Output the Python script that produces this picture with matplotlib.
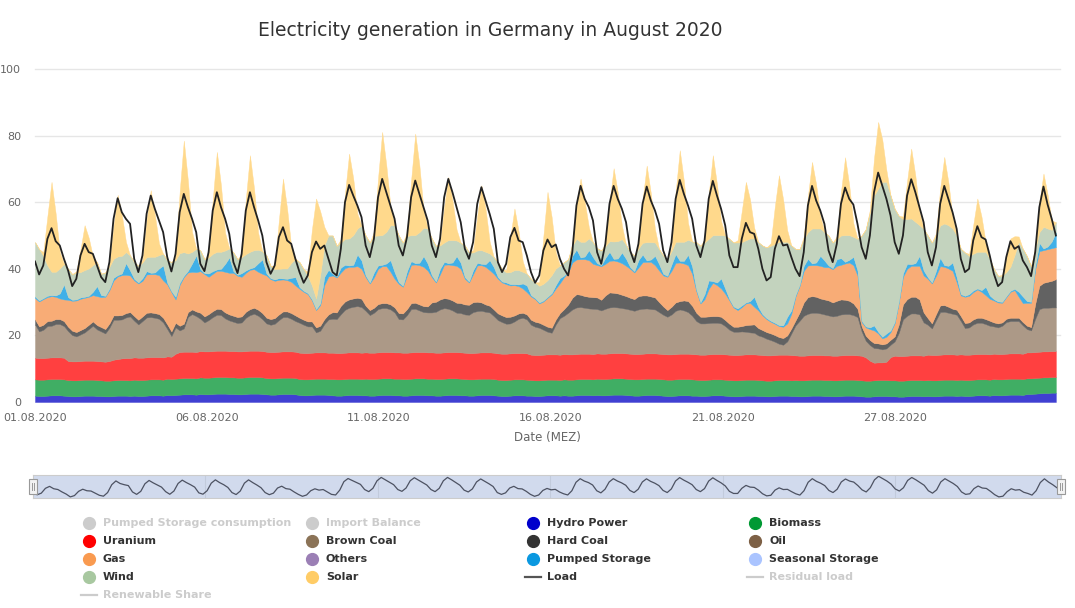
import numpy as np
import matplotlib.pyplot as plt
from matplotlib.lines import Line2D
from matplotlib.patches import Rectangle

# 3-hourly values (00, 03, ... 21 h) from 01.08.2020 to 31.08.2020, GW
hydro = [
    1.9, 1.8, 1.8, 1.9, 2.0, 2.0, 2.0, 1.9, 1.8, 1.7, 1.7, 1.8, 1.9, 1.9, 1.9, 1.8,
    1.8, 1.7, 1.7, 1.8, 1.9, 1.9, 1.9, 1.8, 1.9, 1.8, 1.8, 1.9, 2.0, 2.0, 2.0, 1.9,
    2.1, 2.0, 2.1, 2.2, 2.3, 2.3, 2.3, 2.2, 2.4, 2.3, 2.3, 2.4, 2.5, 2.5, 2.5, 2.4,
    2.4, 2.3, 2.3, 2.4, 2.5, 2.5, 2.5, 2.4, 2.3, 2.2, 2.2, 2.3, 2.4, 2.4, 2.4, 2.3,
    2.1, 2.0, 2.0, 2.1, 2.2, 2.2, 2.2, 2.1, 2.0, 1.9, 1.9, 2.0, 2.1, 2.1, 2.1, 2.0,
    2.0, 1.9, 1.9, 2.0, 2.1, 2.1, 2.1, 2.0, 2.0, 1.9, 1.9, 2.0, 2.1, 2.1, 2.1, 2.0,
    2.0, 1.9, 1.9, 2.0, 2.1, 2.1, 2.1, 2.0, 2.0, 1.9, 1.9, 2.0, 2.1, 2.1, 2.1, 2.0,
    1.9, 1.8, 1.8, 1.9, 2.0, 2.0, 2.0, 1.9, 1.9, 1.8, 1.8, 1.9, 2.0, 2.0, 2.0, 1.9,
    2.0, 1.9, 1.9, 2.0, 2.1, 2.1, 2.1, 2.0, 2.1, 2.0, 2.0, 2.1, 2.2, 2.2, 2.2, 2.1,
    2.0, 1.9, 1.9, 2.0, 2.1, 2.1, 2.1, 2.0, 1.9, 1.8, 1.8, 1.9, 2.0, 2.0, 2.0, 1.9,
    1.9, 1.8, 1.8, 1.9, 2.0, 2.0, 2.0, 1.9, 1.8, 1.7, 1.7, 1.8, 1.9, 1.9, 1.9, 1.8,
    1.8, 1.7, 1.7, 1.8, 1.9, 1.9, 1.9, 1.8, 1.8, 1.7, 1.7, 1.8, 1.9, 1.9, 1.9, 1.8,
    1.8, 1.7, 1.7, 1.8, 1.9, 1.9, 1.9, 1.8, 1.7, 1.6, 1.6, 1.7, 1.8, 1.8, 1.8, 1.7,
    1.7, 1.6, 1.6, 1.7, 1.8, 1.8, 1.8, 1.7, 1.8, 1.7, 1.7, 1.8, 1.9, 1.9, 1.9, 1.8,
    1.9, 1.8, 1.8, 1.9, 2.0, 2.0, 2.0, 1.9, 2.1, 2.0, 2.0, 2.1, 2.2, 2.2, 2.2, 2.1,
    2.4, 2.4, 2.5, 2.6, 2.7, 2.7, 2.8, 2.8,
]
biomass = [
    4.9, 4.9, 4.9, 4.9, 4.9, 4.9, 4.9, 4.9, 4.8, 4.8, 4.8, 4.8, 4.8, 4.8, 4.8, 4.8,
    4.7, 4.7, 4.7, 4.7, 4.7, 4.7, 4.7, 4.7, 4.8, 4.8, 4.8, 4.8, 4.8, 4.8, 4.8, 4.8,
    4.9, 4.9, 4.9, 4.9, 4.9, 4.9, 4.9, 4.9, 5.0, 5.0, 5.0, 5.0, 5.0, 5.0, 5.0, 5.0,
    5.0, 5.0, 5.0, 5.0, 5.0, 5.0, 5.0, 5.0, 4.9, 4.9, 4.9, 4.9, 4.9, 4.9, 4.9, 4.9,
    4.8, 4.8, 4.8, 4.8, 4.8, 4.8, 4.8, 4.8, 4.9, 4.9, 4.9, 4.9, 4.9, 4.9, 4.9, 4.9,
    5.0, 5.0, 5.0, 5.0, 5.0, 5.0, 5.0, 5.0, 5.0, 5.0, 5.0, 5.0, 5.0, 5.0, 5.0, 5.0,
    5.0, 5.0, 5.0, 5.0, 5.0, 5.0, 5.0, 5.0, 4.9, 4.9, 4.9, 4.9, 4.9, 4.9, 4.9, 4.9,
    4.8, 4.8, 4.8, 4.8, 4.8, 4.8, 4.8, 4.8, 4.7, 4.7, 4.7, 4.7, 4.7, 4.7, 4.7, 4.7,
    4.8, 4.8, 4.8, 4.8, 4.8, 4.8, 4.8, 4.8, 4.9, 4.9, 4.9, 4.9, 4.9, 4.9, 4.9, 4.9,
    4.9, 4.9, 4.9, 4.9, 4.9, 4.9, 4.9, 4.9, 4.9, 4.9, 4.9, 4.9, 4.9, 4.9, 4.9, 4.9,
    4.8, 4.8, 4.8, 4.8, 4.8, 4.8, 4.8, 4.8, 4.8, 4.8, 4.8, 4.8, 4.8, 4.8, 4.8, 4.8,
    4.7, 4.7, 4.7, 4.7, 4.7, 4.7, 4.7, 4.7, 4.8, 4.8, 4.8, 4.8, 4.8, 4.8, 4.8, 4.8,
    4.8, 4.8, 4.8, 4.8, 4.8, 4.8, 4.8, 4.8, 4.8, 4.8, 4.8, 4.8, 4.8, 4.8, 4.8, 4.8,
    4.8, 4.8, 4.8, 4.8, 4.8, 4.8, 4.8, 4.8, 4.8, 4.8, 4.8, 4.8, 4.8, 4.8, 4.8, 4.8,
    4.8, 4.8, 4.8, 4.8, 4.8, 4.8, 4.8, 4.8, 4.8, 4.8, 4.8, 4.8, 4.8, 4.8, 4.8, 4.8,
    4.7, 4.7, 4.7, 4.7, 4.7, 4.7, 4.7, 4.7,
]
uranium = [
    6.5, 6.5, 6.5, 6.5, 6.5, 6.5, 6.5, 6.5, 5.7, 5.7, 5.7, 5.7, 5.7, 5.7, 5.7, 5.7,
    5.7, 5.7, 5.9, 6.2, 6.3, 6.5, 6.6, 6.7, 6.7, 6.7, 6.7, 6.7, 6.7, 6.7, 6.7, 6.7,
    6.7, 6.7, 7.5, 7.9, 7.9, 7.9, 7.9, 7.9, 7.9, 7.9, 7.9, 7.9, 7.9, 7.9, 7.9, 7.9,
    7.9, 7.9, 7.9, 7.9, 7.9, 7.9, 7.9, 7.9, 7.9, 7.9, 7.9, 7.9, 7.9, 7.9, 7.9, 7.9,
    7.9, 7.9, 7.9, 7.9, 7.9, 7.9, 7.9, 7.9, 7.9, 7.9, 7.9, 7.9, 7.9, 7.9, 7.9, 7.9,
    7.9, 7.9, 7.9, 7.9, 7.9, 7.9, 7.9, 7.9, 7.9, 7.9, 7.9, 7.9, 7.9, 7.9, 7.9, 7.9,
    7.9, 7.9, 7.9, 7.9, 7.9, 7.9, 7.9, 7.9, 7.9, 7.9, 7.9, 7.9, 7.9, 7.9, 7.9, 7.9,
    7.9, 7.9, 7.9, 7.9, 7.9, 7.9, 7.9, 7.9, 7.6, 7.6, 7.6, 7.6, 7.6, 7.6, 7.6, 7.6,
    7.6, 7.6, 7.6, 7.6, 7.6, 7.6, 7.6, 7.6, 7.6, 7.6, 7.6, 7.6, 7.6, 7.6, 7.6, 7.6,
    7.6, 7.6, 7.6, 7.6, 7.6, 7.6, 7.6, 7.6, 7.6, 7.6, 7.6, 7.6, 7.6, 7.6, 7.6, 7.6,
    7.6, 7.6, 7.6, 7.6, 7.6, 7.6, 7.6, 7.6, 7.6, 7.6, 7.6, 7.6, 7.6, 7.6, 7.6, 7.6,
    7.6, 7.6, 7.6, 7.6, 7.6, 7.6, 7.6, 7.6, 7.4, 7.4, 7.4, 7.4, 7.4, 7.4, 7.4, 7.4,
    7.4, 7.4, 7.4, 7.4, 7.4, 7.4, 7.4, 7.4, 7.4, 7.0, 6.0, 5.3, 5.3, 5.3, 5.5, 7.0,
    7.4, 7.4, 7.4, 7.4, 7.4, 7.4, 7.4, 7.4, 7.6, 7.6, 7.6, 7.6, 7.6, 7.6, 7.6, 7.6,
    7.6, 7.6, 7.6, 7.6, 7.6, 7.6, 7.6, 7.6, 7.6, 7.6, 7.6, 7.6, 7.6, 7.6, 7.6, 7.6,
    7.8, 7.8, 7.8, 7.8, 7.8, 7.8, 7.8, 7.8,
]
brown_coal = [
    10.0, 8.0, 8.5, 9.5, 9.5, 10.0, 10.0, 9.5, 9.0, 7.9, 7.5, 8.0, 8.5, 9.5, 10.5, 9.5,
    9.0, 8.5, 10.0, 12.0, 11.8, 11.7, 12.2, 12.5, 11.0, 10.0, 11.0, 12.0, 12.0, 11.8, 11.5, 10.5,
    8.2, 6.2, 7.9, 6.5, 7.0, 10.5, 11.3, 10.8, 9.7, 8.7, 9.4, 10.2, 10.8, 10.7, 9.7, 9.2,
    8.8, 8.5, 8.7, 10.0, 10.7, 11.1, 10.5, 9.6, 8.5, 8.2, 8.5, 9.5, 10.3, 10.3, 9.8, 9.2,
    9.0, 8.5, 8.0, 7.9, 6.0, 6.5, 8.5, 10.0, 10.2, 10.2, 11.7, 12.9, 13.4, 13.7, 13.9, 13.7,
    12.5, 11.3, 12.0, 13.0, 13.2, 13.2, 12.8, 12.0, 10.0, 10.0, 11.3, 13.0, 13.0, 12.5, 12.0, 12.0,
    12.0, 12.3, 13.0, 13.3, 13.0, 12.5, 11.8, 11.8, 11.5, 11.5, 12.3, 12.5, 12.5, 12.2, 12.0, 11.0,
    10.0, 9.5, 9.0, 9.0, 9.5, 10.3, 10.6, 10.2, 9.0, 8.5, 8.2, 7.5, 6.8, 6.5, 9.0, 11.0,
    11.5, 12.5, 13.5, 14.0, 14.0, 13.8, 13.6, 13.6, 13.3, 13.0, 13.5, 13.8, 13.8, 13.7, 13.5, 13.4,
    13.2, 13.0, 13.4, 13.5, 13.5, 13.3, 13.2, 12.5, 11.8, 11.3, 12.0, 13.0, 13.3, 13.0, 12.5, 11.5,
    10.0, 9.4, 9.4, 9.4, 9.4, 9.4, 9.2, 8.5, 7.5, 7.0, 7.0, 7.0, 6.8, 6.6, 6.5, 5.8,
    5.5, 5.0, 4.6, 4.0, 3.3, 3.0, 4.0, 6.5, 9.0, 10.5, 12.0, 12.5, 12.7, 12.7, 12.5, 12.3,
    12.0, 11.8, 12.0, 12.3, 12.3, 12.3, 12.0, 11.5, 7.3, 5.0, 4.7, 4.4, 4.2, 3.9, 4.0, 3.7,
    4.3, 7.0, 11.0, 12.0, 12.6, 12.6, 12.3, 10.0, 9.0, 8.0, 10.5, 12.8, 12.8, 12.5, 12.2, 12.0,
    10.0, 8.0, 8.2, 9.0, 9.4, 9.4, 9.0, 8.6, 8.2, 8.0, 8.5, 9.5, 9.7, 9.7, 9.7, 8.5,
    7.0, 6.6, 10.0, 12.8, 13.1, 13.1, 13.1, 13.1,
]
hard_coal = [
    1.5, 1.5, 1.5, 1.5, 1.5, 1.5, 1.5, 1.5, 1.3, 1.3, 1.3, 1.3, 1.3, 1.3, 1.3, 1.3,
    1.3, 1.3, 1.3, 1.3, 1.3, 1.3, 1.3, 1.3, 1.4, 1.4, 1.4, 1.4, 1.4, 1.4, 1.4, 1.4,
    1.4, 1.4, 1.4, 1.4, 1.4, 1.4, 1.4, 1.4, 1.8, 1.8, 1.8, 1.8, 1.8, 1.8, 1.8, 1.8,
    1.8, 1.8, 1.8, 1.8, 1.8, 1.8, 1.8, 1.8, 1.7, 1.7, 1.7, 1.7, 1.7, 1.7, 1.7, 1.7,
    1.5, 1.5, 1.5, 1.5, 1.5, 1.5, 1.5, 1.5, 2.0, 2.0, 2.5, 2.5, 2.5, 2.5, 2.5, 2.5,
    1.5, 1.5, 1.5, 1.5, 1.5, 1.5, 1.5, 1.5, 1.8, 1.8, 1.8, 1.8, 1.8, 1.8, 1.8, 1.8,
    3.0, 3.0, 3.0, 3.0, 3.0, 3.0, 3.0, 3.0, 3.0, 3.0, 3.0, 2.8, 2.5, 2.2, 2.0, 2.0,
    2.0, 2.0, 2.0, 2.0, 1.8, 1.6, 1.5, 1.5, 1.5, 1.5, 1.5, 1.5, 1.5, 1.5, 1.5, 1.5,
    2.0, 2.5, 3.5, 4.0, 3.7, 3.5, 3.5, 3.5, 3.5, 3.2, 4.0, 4.5, 4.3, 4.2, 4.0, 3.8,
    3.6, 3.5, 4.0, 4.0, 3.9, 3.8, 3.6, 3.0, 2.5, 2.0, 2.3, 2.5, 2.5, 3.0, 3.3, 3.0,
    2.5, 2.0, 2.0, 2.0, 2.0, 2.0, 2.0, 1.8, 1.8, 1.5, 1.5, 1.6, 2.0, 2.3, 2.5, 2.2,
    2.0, 2.0, 2.0, 2.0, 2.0, 2.0, 1.8, 1.5, 1.5, 2.5, 4.0, 5.0, 5.0, 4.8, 4.5, 4.5,
    4.5, 4.2, 4.5, 4.5, 4.3, 4.0, 3.5, 2.5, 1.5, 1.5, 1.5, 1.5, 1.5, 1.5, 1.5, 1.5,
    1.5, 2.5, 4.5, 5.0, 5.0, 5.0, 4.5, 3.0, 2.0, 1.5, 1.8, 2.0, 2.0, 1.8, 1.5, 1.5,
    1.5, 1.5, 1.5, 1.5, 1.5, 1.5, 1.5, 1.5, 1.2, 1.2, 1.0, 1.0, 1.0, 1.0, 1.0, 1.0,
    1.0, 1.0, 4.5, 7.0, 7.5, 7.8, 8.0, 8.5,
]
gas = [
    6.4, 7.5, 7.7, 7.2, 7.4, 6.7, 6.2, 6.5, 8.1, 9.0, 9.5, 9.4, 9.1, 8.4, 7.9, 8.7,
    9.0, 9.7, 10.0, 10.5, 11.7, 12.0, 11.5, 11.0, 10.7, 10.9, 10.7, 11.5, 11.5, 11.7, 11.7, 11.2,
    12.0, 11.8, 7.0, 12.3, 14.0, 11.9, 11.3, 11.8, 12.5, 12.7, 11.2, 11.2, 11.4, 11.5, 12.2, 12.5,
    12.9, 12.4, 11.9, 11.7, 11.8, 11.6, 11.4, 11.8, 12.7, 12.0, 11.2, 10.4, 9.6, 9.4, 9.4, 9.0,
    8.7, 8.4, 8.2, 6.3, 5.2, 6.2, 10.2, 11.4, 11.0, 10.5, 10.0, 10.0, 9.8, 9.5, 9.5, 9.0,
    8.6, 8.0, 9.1, 10.6, 11.1, 11.1, 9.8, 8.6, 8.8, 8.0, 10.0, 11.5, 11.5, 11.8, 11.8, 10.8,
    7.6, 5.8, 7.6, 10.0, 10.3, 10.6, 11.1, 10.3, 7.7, 6.7, 8.4, 10.9, 11.2, 11.3, 10.7, 10.7,
    10.4, 9.9, 9.9, 9.4, 9.1, 8.2, 7.3, 6.7, 7.0, 6.8, 5.8, 7.0, 8.7, 10.0, 9.3, 9.0,
    9.6, 9.6, 10.6, 10.4, 10.7, 11.1, 11.0, 10.0, 9.7, 10.1, 9.5, 9.5, 9.7, 9.6, 9.5, 9.1,
    8.7, 8.0, 8.6, 10.0, 10.1, 10.4, 9.7, 9.5, 9.3, 10.0, 10.8, 11.9, 11.6, 11.1, 10.8, 9.6,
    6.5, 4.0, 5.3, 8.3, 10.0, 9.3, 8.5, 7.9, 7.0, 5.8, 5.0, 5.7, 6.5, 6.6, 5.3, 5.3,
    4.4, 3.9, 3.5, 3.4, 3.3, 3.4, 3.6, 4.4, 7.2, 8.0, 9.5, 9.5, 9.3, 9.5, 9.8, 9.7,
    10.0, 10.0, 10.5, 10.4, 10.9, 11.5, 11.5, 10.0, 1.3, 2.5, 3.3, 3.8, 3.0, 1.8, 2.0, 2.3,
    4.0, 6.6, 8.3, 9.1, 9.3, 9.3, 10.1, 11.1, 11.8, 12.0, 11.5, 11.8, 11.5, 11.5, 11.4, 8.3,
    6.2, 7.9, 8.0, 8.2, 8.5, 7.8, 7.2, 6.6, 6.6, 6.3, 5.9, 6.5, 7.8, 8.3, 6.3, 5.7,
    6.9, 7.3, 10.4, 10.4, 9.8, 9.8, 9.8, 9.6,
]
pumped_storage = [
    0.5, 0.3, 0.3, 0.4, 0.3, 0.4, 1.5, 4.5, 0.8, 0.3, 0.3, 0.4, 0.3, 0.3, 1.0, 3.0,
    0.6, 0.3, 0.5, 0.8, 0.4, 0.5, 3.5, 1.5, 0.5, 0.3, 0.8, 1.0, 0.4, 0.5, 2.0, 4.5,
    0.5, 0.3, 0.8, 0.6, 0.4, 0.5, 2.5, 5.0, 0.6, 0.3, 1.0, 0.8, 0.4, 0.6, 2.4, 4.6,
    0.5, 0.3, 1.1, 0.7, 0.4, 0.6, 2.6, 4.3, 0.6, 0.3, 0.4, 0.5, 0.3, 0.4, 1.2, 2.5,
    0.5, 0.3, 0.3, 0.3, 0.3, 0.5, 2.5, 2.0, 0.5, 0.3, 1.5, 1.0, 0.4, 0.6, 3.5, 2.5,
    0.5, 0.3, 1.5, 1.0, 0.4, 0.8, 3.5, 2.0, 0.5, 0.3, 1.4, 1.1, 0.4, 0.7, 3.2, 2.1,
    0.6, 0.3, 1.6, 0.9, 0.4, 0.8, 2.9, 1.8, 0.5, 0.3, 1.2, 0.8, 0.4, 0.8, 3.0, 2.0,
    0.5, 0.3, 0.5, 0.4, 0.3, 0.5, 1.5, 2.0, 0.4, 0.3, 0.3, 0.3, 0.3, 0.4, 1.0, 1.5,
    0.5, 0.3, 2.0, 3.0, 0.5, 0.8, 3.0, 2.0, 0.6, 0.3, 1.8, 2.7, 0.5, 0.9, 3.2, 2.1,
    0.5, 0.4, 2.2, 2.3, 0.4, 0.7, 2.8, 1.9, 0.5, 0.3, 1.9, 2.6, 0.5, 0.8, 3.1, 2.2,
    0.5, 0.3, 1.5, 2.5, 0.5, 0.8, 3.0, 1.5, 0.4, 0.3, 0.5, 0.5, 0.3, 0.5, 3.0, 1.0,
    0.4, 0.3, 0.3, 0.3, 0.3, 0.4, 2.0, 1.0, 0.4, 0.3, 1.5, 2.0, 0.5, 0.8, 3.0, 2.0,
    0.5, 0.3, 2.0, 2.0, 0.5, 0.8, 2.5, 1.5, 0.4, 0.3, 0.5, 1.5, 0.5, 0.5, 1.0, 0.5,
    0.4, 0.3, 1.0, 1.5, 0.5, 0.8, 3.0, 1.5, 0.5, 0.3, 1.5, 2.5, 0.5, 0.8, 2.5, 1.5,
    0.4, 0.3, 0.5, 0.5, 0.3, 0.5, 2.5, 1.0, 0.4, 0.3, 0.3, 0.3, 0.3, 0.4, 1.5, 2.0,
    0.5, 0.3, 1.0, 2.5, 0.5, 0.8, 2.0, 4.5,
]
wind = [
    16.3, 15.4, 12.7, 9.1, 7.0, 7.1, 7.5, 6.2, 8.5, 7.7, 8.1, 7.6, 8.0, 8.2, 8.0, 7.2,
    6.4, 7.0, 6.5, 5.7, 5.6, 5.3, 3.3, 4.5, 5.0, 5.0, 4.7, 4.2, 4.8, 4.7, 4.0, 3.5,
    6.8, 8.7, 11.0, 8.9, 7.1, 5.2, 3.5, 2.0, 5.6, 4.2, 4.8, 5.2, 5.3, 5.1, 4.0, 2.7,
    5.6, 4.7, 4.8, 4.9, 5.0, 5.1, 4.0, 2.5, 5.4, 3.7, 3.1, 2.8, 3.0, 3.1, 4.5, 5.5,
    7.5, 6.5, 5.2, 4.2, 3.2, 8.5, 9.5, 10.3, 11.5, 9.2, 7.5, 7.8, 8.1, 8.9, 7.8, 10.5,
    12.0, 12.0, 11.0, 9.0, 8.9, 9.5, 10.5, 14.0, 14.0, 13.0, 10.5, 7.8, 8.4, 9.2, 8.5, 10.5,
    11.0, 10.7, 7.0, 5.8, 6.9, 6.7, 4.7, 6.0, 9.5, 8.7, 5.3, 3.7, 4.1, 3.7, 2.0, 3.0,
    4.5, 3.7, 3.0, 3.6, 4.2, 4.3, 3.5, 3.5, 4.9, 4.7, 5.0, 5.0, 5.0, 5.4, 5.0, 3.8,
    4.0, 3.7, 3.0, 3.2, 4.7, 4.4, 3.5, 4.5, 4.5, 4.4, 3.5, 3.2, 5.2, 5.2, 4.0, 4.2,
    4.5, 4.7, 3.5, 3.5, 5.5, 5.2, 4.0, 4.5, 5.5, 5.0, 4.0, 3.7, 5.7, 5.7, 4.5, 7.5,
    14.2, 17.0, 15.5, 12.5, 13.8, 14.2, 13.0, 16.0, 18.1, 19.2, 19.8, 19.0, 18.7, 18.8, 17.5, 19.5,
    20.6, 21.2, 22.5, 23.7, 25.0, 25.1, 22.5, 19.5, 13.9, 10.7, 8.0, 8.0, 10.5, 10.2, 8.2, 8.5,
    9.0, 7.7, 6.0, 6.8, 8.0, 7.4, 6.0, 9.5, 25.6, 29.2, 34.5, 39.0, 43.0, 46.5, 45.5, 40.5,
    33.9, 25.7, 16.3, 13.5, 13.7, 12.4, 9.2, 12.5, 12.5, 12.0, 10.5, 9.7, 12.5, 12.2, 10.2, 12.5,
    13.6, 13.0, 11.5, 11.0, 11.0, 11.5, 10.5, 11.0, 9.1, 7.7, 7.8, 7.2, 7.2, 10.1, 15.0, 14.3,
    13.5, 10.7, 5.0, 3.2, 6.5, 5.4, 3.5, 3.0,
]
solar = [
    0, 0, 1.1, 14.8, 27.0, 17.5, 4.9, 0, 0, 0, 0.4, 6.8, 13.5, 9.2, 2.6, 0,
    0, 0, 0.7, 10.0, 18.5, 12.4, 3.1, 0, 0, 0, 0.8, 11.3, 20.0, 12.6, 3.5, 0,
    0, 0, 1.3, 18.4, 33.5, 21.8, 6.0, 0, 0, 0, 1.2, 16.2, 30.0, 19.9, 5.3, 0,
    0, 0, 1.1, 16.4, 29.0, 18.5, 5.1, 0, 0, 0, 1.1, 14.5, 27.0, 17.9, 4.7, 0,
    0, 0, 1.2, 16.8, 30.0, 19.2, 5.5, 0, 0, 0, 1.0, 13.6, 25.5, 17.0, 4.5, 0,
    0, 0, 1.2, 17.2, 31.0, 20.0, 5.7, 0, 0, 0, 1.2, 16.5, 30.5, 20.1, 5.4, 0,
    0, 0, 0.8, 10.8, 19.0, 12.0, 3.3, 0, 0, 0, 0.8, 10.4, 19.5, 13.0, 3.6, 0,
    0, 0, 0.7, 10.5, 18.5, 11.7, 3.2, 0, 0, 0, 1.1, 14.3, 26.5, 17.5, 4.9, 0,
    0, 0, 0.8, 10.7, 19.0, 12.1, 3.4, 0, 0, 0, 0.9, 11.8, 22.0, 14.6, 4.1, 0,
    0, 0, 0.9, 12.9, 23.0, 14.7, 4.0, 0, 0, 0, 1.1, 15.0, 27.5, 18.2, 5.1, 0,
    0, 0, 1.0, 13.5, 24.0, 15.3, 4.2, 0, 0, 0, 0.7, 9.3, 17.5, 11.7, 3.3, 0,
    0, 0, 0.8, 11.2, 20.0, 12.8, 3.5, 0, 0, 0, 0.8, 10.8, 20.0, 13.2, 3.7, 0,
    0, 0, 0.9, 13.1, 23.4, 15.0, 4.1, 0, 0, 0, 0.8, 11.2, 20.0, 12.7, 3.5, 0,
    0, 0, 0.8, 11.3, 21.0, 13.9, 3.9, 0, 0, 0, 0.8, 11.1, 20.0, 12.8, 3.6, 0,
    0, 0, 0.6, 8.6, 16.0, 10.6, 2.9, 0, 0, 0, 0.3, 4.5, 8.5, 5.7, 1.6, 0,
    0, 0, 0.6, 9.0, 16.0, 10.2, 2.8, 0,
]
load = [
    42.2, 38.3, 41.0, 49.0, 52.2, 48.3, 47.0, 43.0, 39.5, 34.8, 37.0, 44.0, 47.5, 45.0, 44.5, 41.0,
    37.5, 36.0, 42.0, 55.0, 61.2, 57.0, 55.0, 53.5, 43.0, 39.0, 44.0, 56.5, 62.0, 58.0, 54.5, 51.0,
    43.5, 39.2, 44.5, 57.0, 62.5, 58.5, 55.0, 51.0, 41.5, 39.3, 45.0, 57.5, 63.0, 58.5, 55.0, 50.5,
    42.0, 38.7, 44.5, 57.5, 63.0, 58.5, 54.5, 50.0, 42.0, 38.5, 41.0, 49.5, 52.5, 48.5, 47.5, 43.0,
    39.0, 35.8, 38.0, 45.0, 48.2, 46.0, 47.0, 43.0, 39.0, 38.0, 46.0, 60.0, 65.2, 62.0, 59.0, 55.5,
    47.0, 43.5, 49.0, 61.5, 67.0, 63.0, 59.0, 55.0, 47.0, 44.0, 49.5, 61.5, 66.5, 62.5, 58.5, 54.5,
    47.0, 43.5, 49.0, 61.5, 67.0, 63.0, 58.5, 54.0, 46.0, 43.0, 48.0, 59.5, 64.5, 60.5, 56.5, 52.0,
    42.0, 39.0, 41.5, 49.5, 52.3, 48.5, 48.0, 44.0, 39.0, 35.8, 38.0, 45.5, 48.8, 46.5, 47.3, 43.0,
    40.0, 38.0, 45.0, 59.0, 64.9, 61.0, 58.5, 54.5, 45.0, 41.5, 47.5, 59.5, 64.9, 61.0, 58.0, 54.0,
    45.5, 42.0, 47.5, 59.5, 64.7, 60.5, 57.5, 53.5, 45.5, 42.0, 48.0, 61.0, 66.7, 62.5, 59.0, 55.0,
    47.0, 43.5, 48.5, 61.0, 66.4, 62.0, 58.0, 53.0, 44.0, 40.5, 40.5, 49.0, 53.8, 51.0, 50.5, 46.0,
    40.0, 36.5, 37.5, 46.0, 49.8, 47.0, 47.3, 43.5, 40.0, 37.8, 45.0, 59.0, 64.9, 60.5, 57.5, 53.5,
    45.5, 42.0, 47.5, 59.5, 64.4, 61.0, 59.3, 53.5, 46.5, 43.0, 50.0, 63.0, 68.9, 65.0, 61.0, 56.0,
    48.0, 44.5, 50.0, 62.0, 66.9, 63.0, 58.5, 54.0, 45.0, 41.0, 46.5, 59.5, 64.9, 61.0, 57.0, 52.0,
    43.0, 39.0, 40.0, 48.5, 52.8, 49.5, 48.8, 44.0, 38.5, 34.8, 36.0, 43.5, 48.3, 46.0, 46.8, 42.5,
    40.5, 37.8, 45.0, 58.5, 64.7, 59.3, 55.0, 50.0,
]

area_colors = ["#4040d2", "#40ae64", "#ff4040", "#ac9987", "#626262",
               "#f8ac76", "#40b0e8", "#c3d3be", "#ffd98c"]

tick_pos = [0, 5.2, 10.4, 15.6, 20.8, 26.0]
tick_labels = ["01.08.2020", "06.08.2020", "11.08.2020",
               "16.08.2020", "21.08.2020", "27.08.2020"]
y_ticks = [0, 20, 40, 60, 80, 100]

legend_names = ["Pumped Storage consumption", "Import Balance", "Hydro Power", "Biomass",
                "Uranium", "Brown Coal", "Hard Coal", "Oil",
                "Gas", "Others", "Pumped Storage", "Seasonal Storage",
                "Wind", "Solar", "Load", "Residual load",
                "Renewable Share"]
legend_colors = ["#cccccc", "#cccccc", "#0000cc", "#009933",
                 "#ff0000", "#8b7357", "#333333", "#7d6045",
                 "#f99a50", "#9b7fb5", "#0a98e0", "#aac4ff",
                 "#a8c8a0", "#ffcc66", "#555555", "#cccccc",
                 "#cccccc"]
legend_line = ["Load", "Residual load", "Renewable Share"]
legend_hidden = ["Pumped Storage consumption", "Import Balance", "Residual load", "Renewable Share"]

W, H = 1075, 608


def fx(x):
    return x / W


def fy(y):
    return 1 - y / H


t = np.arange(len(load)) * 3 / 24.0  # days since 01.08.2020 00:00

fig = plt.figure(figsize=(W / 100, H / 100), dpi=100)

ax = fig.add_axes([fx(35), fy(402), (1060 - 35) / W, (402 - 69) / H])
for yv in y_ticks[1:]:
    ax.axhline(yv, color="#e6e6e6", lw=1, zorder=0, clip_on=False)
ax.stackplot(t, hydro, biomass, uranium, brown_coal, hard_coal, gas,
             pumped_storage, wind, solar, colors=area_colors,
             linewidth=0.3, edgecolor="face", zorder=2)
ax.plot(t, load, color="#222222", lw=1.3, zorder=5)
ax.set_xlim(0, 31)
ax.set_ylim(0, 100)
for s in ax.spines.values():
    s.set_visible(False)
ax.set_yticks(y_ticks)
ax.set_yticklabels([str(v) for v in y_ticks])
ax.tick_params(axis="y", length=0, pad=10, labelsize=8, labelcolor="#666666")
ax.set_xticks(tick_pos)
ax.set_xticklabels(tick_labels)
ax.tick_params(axis="x", length=0, pad=8, labelsize=8, labelcolor="#666666")

fig.text(fx(490), fy(31), "Electricity generation in Germany in August 2020",
         ha="center", va="center", fontsize=13.5, color="#333333")
fig.text(fx(547), fy(437), "Date (MEZ)", ha="center", va="center",
         fontsize=8.5, color="#666666")

# navigator
nav = fig.add_axes([fx(33), fy(498), (1061 - 33) / W, (498 - 475) / H])
nav.set_facecolor("#d1daed")
for p in tick_pos[1:]:
    nav.axvline(p, color="#c2cbdc", lw=0.8, zorder=0)
nav.plot(t, load, color="#4d5262", lw=0.9)
nav.set_xlim(0, 31)
nav.set_ylim(33, 71)
nav.set_xticks([])
nav.set_yticks([])
for s in nav.spines.values():
    s.set_color("#cccccc")

for hx in (33, 1061):
    fig.add_artist(Rectangle((fx(hx - 4), fy(494)), 8 / W, 15 / H,
                             transform=fig.transFigure, facecolor="#f2f2f2",
                             edgecolor="#999999", lw=0.8, zorder=10))
    for dx in (-1.3, 1.3):
        fig.add_artist(Line2D([fx(hx + dx)] * 2, [fy(483), fy(490)],
                              transform=fig.transFigure, color="#999999",
                              lw=0.7, zorder=11))

# legend
col_x = [89, 312, 533, 755]
row_y = [523, 541, 559, 577, 595]
for i, name in enumerate(legend_names):
    r, c = divmod(i, 4)
    x, y = col_x[c], row_y[r]
    col = legend_colors[i]
    if name in legend_line:
        fig.add_artist(Line2D([fx(x - 8), fx(x + 8)], [fy(y), fy(y)],
                              transform=fig.transFigure, color=col, lw=1.6))
    else:
        fig.add_artist(Line2D([fx(x)], [fy(y)], transform=fig.transFigure,
                              marker="o", markersize=8.5, color=col, lw=0))
    tc = "#cccccc" if name in legend_hidden else "#333333"
    fig.text(fx(x + 14), fy(y), name, ha="left", va="center",
             fontsize=8, fontweight="bold", color=tc)

fig.savefig("out.png", dpi=100)
